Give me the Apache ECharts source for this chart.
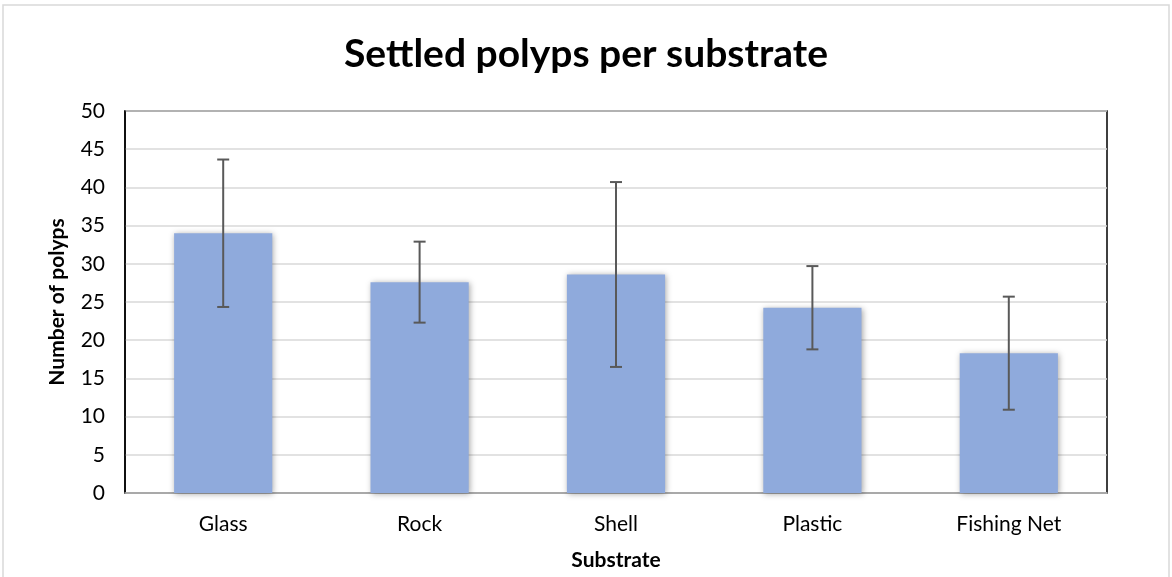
<!DOCTYPE html>
<html><head><meta charset="utf-8">
<script src="https://cdn.jsdelivr.net/npm/echarts@6/dist/echarts.min.js"></script>
<style>html,body{margin:0;padding:0;background:#fff}#c{width:1172px;height:577px}</style>
</head><body><div id="c"></div>
<script>
const categories = ['Glass', 'Rock', 'Shell', 'Plastic', 'Fishing Net'];
const means = [34.0, 27.6, 28.6, 24.25, 18.3];
const errors = [9.65, 5.3, 12.1, 5.45, 7.4];
const yTicks = {min: 0, max: 50, interval: 5};

const chart = echarts.init(document.getElementById('c'));
const font = 'Lato, "Open Sans", sans-serif';
chart.setOption({
  animation: false,
  title: {
    text: 'Settled polyps per substrate', left: 'center', top: 30,
    textStyle: {fontFamily: font, fontSize: 39, fontWeight: 'bold', color: '#000'}
  },
  graphic: [{type: 'rect', shape: {x: 3, y: 5, width: 1166, height: 620},
    style: {fill: 'none', stroke: '#d9d9d9', lineWidth: 1.5}, silent: true, z: -1}],
  grid: {left: 125, right: 65, top: 111, bottom: 84, show: true, borderColor: '#000', borderWidth: 1.5},
  xAxis: {
    type: 'category', data: categories,
    name: 'Substrate', nameLocation: 'middle', nameGap: 57,
    nameTextStyle: {fontFamily: font, fontSize: 21, fontWeight: 'bold', color: '#000'},
    axisLine: {lineStyle: {color: '#a6a6a6', width: 1.5}},
    axisTick: {show: false},
    axisLabel: {fontFamily: font, fontSize: 21, color: '#000', margin: 21}
  },
  yAxis: {
    type: 'value', min: yTicks.min, max: yTicks.max, interval: yTicks.interval,
    name: 'Number of polyps', nameLocation: 'middle', nameGap: 57,
    nameTextStyle: {fontFamily: font, fontSize: 21, fontWeight: 'bold', color: '#000'},
    axisLine: {show: true, lineStyle: {color: '#000', width: 1.5}},
    axisTick: {show: false},
    axisLabel: {fontFamily: font, fontSize: 21, color: '#000', margin: 20},
    splitLine: {lineStyle: {color: '#d9d9d9', width: 1.5}}
  },
  series: [{
    type: 'bar', data: means, barWidth: '50%',
    itemStyle: {color: '#8faadc', shadowBlur: 6, shadowColor: 'rgba(0,0,0,0.35)', shadowOffsetX: 1, shadowOffsetY: 1}
  }, {
    type: 'custom', z: 10,
    data: means.map((m, i) => [i, m - errors[i], m + errors[i]]),
    renderItem: function (params, api) {
      const lo = api.coord([api.value(0), api.value(1)]);
      const hi = api.coord([api.value(0), api.value(2)]);
      const hw = 6;
      const st = {stroke: '#595959', lineWidth: 2};
      return {type: 'group', children: [
        {type: 'line', shape: {x1: lo[0], y1: lo[1], x2: hi[0], y2: hi[1]}, style: st},
        {type: 'line', shape: {x1: lo[0] - hw, y1: lo[1], x2: lo[0] + hw, y2: lo[1]}, style: st},
        {type: 'line', shape: {x1: hi[0] - hw, y1: hi[1], x2: hi[0] + hw, y2: hi[1]}, style: st}
      ]};
    }
  }]
});
</script></body></html>
